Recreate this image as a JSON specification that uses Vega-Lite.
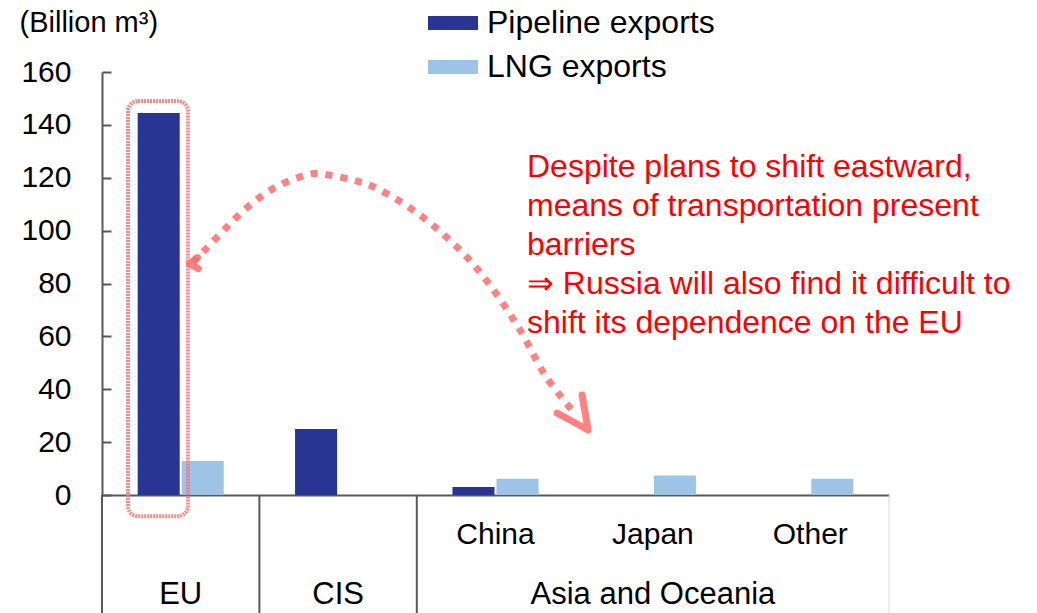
{
  "$schema": "https://vega.github.io/schema/vega-lite/v6.json",
  "width": 787,
  "height": 423,
  "autosize": {"type": "none"},
  "padding": {"left": 102, "top": 72, "right": 148, "bottom": 118},
  "background": "white",
  "config": {
    "view": {"stroke": null},
    "font": "Liberation Sans",
    "text": {"font": "Liberation Sans"}
  },
  "datasets": {
    "bars": [
      {"region": "EU", "type": "Pipeline exports", "value": 144.5},
      {"region": "EU", "type": "LNG exports", "value": 12.9},
      {"region": "CIS", "type": "Pipeline exports", "value": 25.0},
      {"region": "China", "type": "Pipeline exports", "value": 3.0},
      {"region": "China", "type": "LNG exports", "value": 6.1},
      {"region": "Japan", "type": "LNG exports", "value": 7.4},
      {"region": "Other", "type": "LNG exports", "value": 6.1}
    ],
    "separators": [
      {"region": "EU"},
      {"region": "CIS"},
      {"region": "China"}
    ],
    "rightEdge": [{"region": "Other"}],
    "subLabels": [
      {"region": "China", "label": "China"},
      {"region": "Japan", "label": "Japan"},
      {"region": "Other", "label": "Other"}
    ],
    "groupLabels": [
      {"region": "EU", "label": "EU"},
      {"region": "CIS", "label": "CIS"},
      {"region": "Japan", "label": "Asia and Oceania"}
    ],
    "box": [{"x1": 0.165, "x2": 0.546, "y1": -8, "y2": 149}],
    "curve": [
      {"i": 1, "x": 0.575, "y": 88.0},
      {"i": 2, "x": 0.654, "y": 92.7},
      {"i": 3, "x": 0.794, "y": 101.4},
      {"i": 4, "x": 0.940, "y": 109.7},
      {"i": 5, "x": 1.105, "y": 116.5},
      {"i": 6, "x": 1.296, "y": 121.0},
      {"i": 7, "x": 1.398, "y": 121.4},
      {"i": 8, "x": 1.595, "y": 119.1},
      {"i": 9, "x": 1.766, "y": 115.4},
      {"i": 10, "x": 2.020, "y": 105.9},
      {"i": 11, "x": 2.274, "y": 92.7},
      {"i": 12, "x": 2.465, "y": 79.4},
      {"i": 13, "x": 2.656, "y": 62.4},
      {"i": 14, "x": 2.814, "y": 45.4},
      {"i": 15, "x": 2.986, "y": 32.1}
    ],
    "heads": [
      {"seg": "end", "i": 1, "x": 2.891, "y": 31.0},
      {"seg": "end", "i": 2, "x": 3.088, "y": 24.6},
      {"seg": "end", "i": 3, "x": 3.050, "y": 37.8},
      {"seg": "start", "i": 1, "x": 0.607, "y": 89.8},
      {"seg": "start", "i": 2, "x": 0.556, "y": 87.4},
      {"seg": "start", "i": 3, "x": 0.612, "y": 85.6}
    ],
    "note": [
      {"note": "Despite plans to shift eastward,\nmeans of transportation present\nbarriers\n⇒ Russia will also find it difficult to\nshift its dependence on the EU"}
    ]
  },
  "layer": [
    {
      "data": {"name": "bars"},
      "mark": {"type": "bar"},
      "encoding": {
        "x": {"field": "region", "type": "nominal",
              "scale": {"type": "band", "domain": ["EU", "CIS", "China", "Japan", "Other"], "paddingInner": 0, "paddingOuter": 0},
              "axis": {"labels": false, "ticks": false, "title": null, "domainColor": "#595959", "domainWidth": 2, "grid": false}},
        "xOffset": {"field": "type", "type": "nominal",
                    "scale": {"domain": ["Pipeline exports", "LNG exports"], "paddingInner": 0.045, "paddingOuter": 0.81}},
        "y": {"field": "value", "type": "quantitative",
              "scale": {"domain": [0, 160], "nice": false},
              "axis": {
                "values": [0, 20, 40, 60, 80, 100, 120, 140, 160],
                "grid": false,
                "domainColor": "#595959", "domainWidth": 2,
                "tickColor": "#595959", "tickWidth": 2, "tickSize": -9,
                "labelPadding": 40,
                "labelFontSize": 30, "labelColor": "black", "labelFont": "Liberation Sans",
                "title": "(Billion m³)",
                "titleX": -83, "titleY": -50, "titleAngle": 0, "titleAlign": "left", "titleBaseline": "middle",
                "titleFontSize": 29, "titleFontWeight": "normal", "titleColor": "black", "titleFont": "Liberation Sans"
              }},
        "color": {"field": "type", "type": "nominal",
                  "scale": {"domain": ["Pipeline exports", "LNG exports"], "range": ["#283593", "#9DC3E6"]},
                  "legend": {"orient": "none", "legendX": 326, "legendY": -74, "title": null,
                             "symbolType": "M-1,-0.28H1V0.28H-1Z", "symbolSize": 2500, "symbolStrokeWidth": 0,
                             "labelFontSize": 32, "labelFont": "Liberation Sans", "labelColor": "black", "labelLimit": 0,
                             "labelOffset": 9, "rowPadding": 3, "padding": 0, "direction": "vertical"}}
      }
    },
    {
      "data": {"name": "separators"},
      "mark": {"type": "rule", "color": "#595959", "strokeWidth": 2},
      "encoding": {
        "x": {"field": "region", "type": "nominal", "bandPosition": 0, "axis": null,
              "scale": {"type": "band", "domain": ["EU", "CIS", "China", "Japan", "Other"], "paddingInner": 0, "paddingOuter": 0}},
        "y": {"datum": 0, "type": "quantitative"},
        "y2": {"datum": -46}
      }
    },
    {
      "data": {"name": "rightEdge"},
      "mark": {"type": "rule", "color": "#d9d9d9", "strokeWidth": 1},
      "encoding": {
        "x": {"field": "region", "type": "nominal", "bandPosition": 1, "axis": null,
              "scale": {"type": "band", "domain": ["EU", "CIS", "China", "Japan", "Other"], "paddingInner": 0, "paddingOuter": 0}},
        "y": {"datum": 0, "type": "quantitative"},
        "y2": {"datum": -46}
      }
    },
    {
      "data": {"name": "subLabels"},
      "mark": {"type": "text", "fontSize": 30, "color": "black", "baseline": "middle", "align": "center"},
      "encoding": {
        "x": {"field": "region", "type": "nominal", "axis": null,
              "scale": {"type": "point", "domain": ["EU", "CIS", "China", "Japan", "Other"], "padding": 0.5}},
        "y": {"datum": -15.2, "type": "quantitative"},
        "text": {"field": "label"}
      }
    },
    {
      "data": {"name": "groupLabels"},
      "mark": {"type": "text", "fontSize": 31, "color": "black", "baseline": "middle", "align": "center"},
      "encoding": {
        "x": {"field": "region", "type": "nominal", "axis": null,
              "scale": {"type": "point", "domain": ["EU", "CIS", "China", "Japan", "Other"], "padding": 0.5}},
        "y": {"datum": -37.8, "type": "quantitative"},
        "text": {"field": "label"}
      }
    },
    {
      "data": {"name": "box"},
      "mark": {"type": "rect", "fill": null, "filled": false, "stroke": "#FF6B6B", "strokeWidth": 4, "strokeOpacity": 0.8, "cornerRadius": 10, "strokeDash": [2, 1]},
      "encoding": {
        "x": {"field": "x1", "type": "quantitative", "axis": null, "scale": {"domain": [0, 5], "nice": false, "zero": false}},
        "x2": {"field": "x2"},
        "y": {"field": "y1", "type": "quantitative"},
        "y2": {"field": "y2"}
      }
    },
    {
      "data": {"name": "curve"},
      "mark": {"type": "line", "color": "#FF6B6B", "opacity": 0.85, "strokeWidth": 7, "strokeDash": [7, 8], "interpolate": "cardinal"},
      "encoding": {
        "x": {"field": "x", "type": "quantitative", "axis": null, "scale": {"domain": [0, 5], "nice": false, "zero": false}},
        "y": {"field": "y", "type": "quantitative"},
        "order": {"field": "i"}
      }
    },
    {
      "data": {"name": "heads"},
      "mark": {"type": "line", "color": "#FF6B6B", "opacity": 0.85, "strokeWidth": 7, "strokeCap": "round", "strokeJoin": "round"},
      "encoding": {
        "x": {"field": "x", "type": "quantitative", "axis": null, "scale": {"domain": [0, 5], "nice": false, "zero": false}},
        "y": {"field": "y", "type": "quantitative"},
        "detail": {"field": "seg"},
        "order": {"field": "i"}
      }
    },
    {
      "data": {"name": "note"},
      "mark": {"type": "text", "fontSize": 32, "color": "#FF0000", "align": "left", "baseline": "top", "lineBreak": "\n", "lineHeight": 39},
      "encoding": {
        "x": {"datum": 2.70, "type": "quantitative", "axis": null, "scale": {"domain": [0, 5], "nice": false, "zero": false}},
        "y": {"datum": 129.8, "type": "quantitative"},
        "text": {"field": "note"}
      }
    }
  ],
  "resolve": {"scale": {"x": "independent"}}
}
